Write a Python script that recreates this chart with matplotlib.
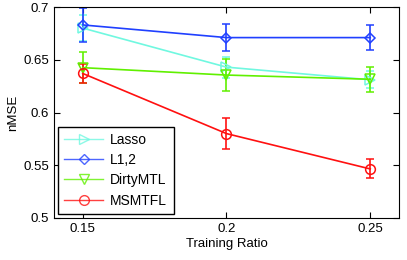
import numpy as np
import matplotlib
matplotlib.use("Agg")
import matplotlib.pyplot as plt
from matplotlib.lines import Line2D

plt.rcParams['font.family'] = ['Liberation Sans', 'DejaVu Sans']

ratio = [0.15, 0.2, 0.25]

lasso = [0.680, 0.643, 0.631]
lasso_err = [0.012, 0.010, 0.008]
l12 = [0.683, 0.671, 0.671]
l12_err = [0.016, 0.013, 0.012]
dirty = [0.6425, 0.6355, 0.6315]
dirty_err = [0.015, 0.015, 0.012]
msmtfl = [0.637, 0.580, 0.5465]
msmtfl_err = [0.009, 0.015, 0.009]

fig = plt.figure(figsize=(4.07, 2.6), dpi=100)
ax = fig.add_axes([54/407, 42/260, 345/407, 211/260])

series = [
    ("Lasso", lasso, lasso_err, '#70f8e0', '>'),
    ("L1,2", l12, l12_err, '#2040ff', 'D'),
    ("DirtyMTL", dirty, dirty_err, '#60f000', 'v'),
    ("MSMTFL", msmtfl, msmtfl_err, '#ff1010', 'o'),
]
handles = []
for name, vals, err, col, mk in series:
    ms = 7 if mk != 'D' else 5.5
    ax.errorbar(ratio, vals, yerr=err, color=col, marker=mk, mfc='none',
                mec=col, ms=ms, mew=1.1, lw=1.2,
                capsize=3, elinewidth=1.2, capthick=1.2)
    handles.append(Line2D([], [], color=col, marker=mk, mfc='none', mec=col,
                          ms=ms, mew=1.0, lw=1.0, alpha=0.8, label=name))

ax.set_xlim(0.14, 0.26)
ax.set_ylim(0.5, 0.7)
ax.set_xticks([0.15, 0.2, 0.25])
ax.set_xticklabels(['0.15', '0.2', '0.25'])
ax.set_yticks([0.5, 0.55, 0.6, 0.65, 0.7])
ax.set_yticklabels(['0.5', '0.55', '0.6', '0.65', '0.7'])
ax.tick_params(direction='in', top=True, right=True, labelsize=9.5, length=4)
ax.set_xlabel('Training Ratio', fontsize=9.5, labelpad=2)
ax.set_ylabel('nMSE', fontsize=9.5, labelpad=3)

leg = ax.legend(handles=handles, loc='lower left', fontsize=10, fancybox=False,
                edgecolor='black', framealpha=1, borderaxespad=0.3,
                handlelength=2.8, handletextpad=0.5, labelspacing=0.45,
                borderpad=0.45)
leg.get_frame().set_linewidth(1.0)

fig.savefig('out.png', dpi=100)
